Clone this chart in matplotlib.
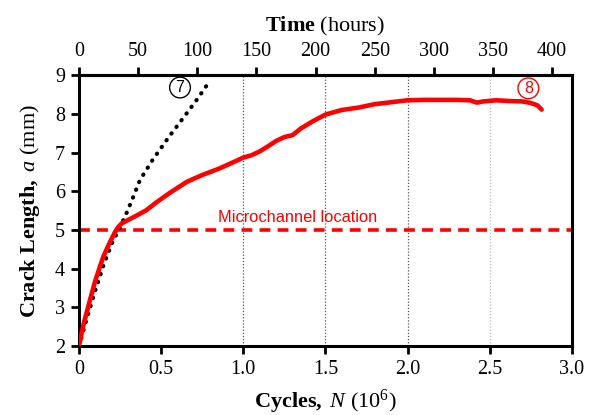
import numpy as np
import matplotlib
matplotlib.use("Agg")
import matplotlib.pyplot as plt

plt.rcParams['font.family'] = ['Liberation Serif', 'DejaVu Serif']
plt.rcParams['mathtext.fontset'] = 'custom'
plt.rcParams['mathtext.rm'] = 'Liberation Serif'
plt.rcParams['mathtext.it'] = 'Liberation Serif:italic'
plt.rcParams['mathtext.bf'] = 'Liberation Serif:bold'

# specimen 8 (red, solid)
red_N = [0, 0.03, 0.067, 0.1, 0.148, 0.189, 0.22, 0.24, 0.26, 0.3, 0.35, 0.41,
         0.47, 0.55, 0.655, 0.75, 0.85, 0.95, 1.0, 1.05, 1.1, 1.15, 1.2, 1.25,
         1.3, 1.35, 1.42, 1.5, 1.6, 1.7, 1.8, 1.9, 2.0, 2.1, 2.2, 2.3, 2.38,
         2.42, 2.46, 2.54, 2.62, 2.7, 2.75, 2.79, 2.816]
red_a = [2.0, 2.6, 3.19, 3.7, 4.31, 4.69, 4.95, 5.08, 5.17, 5.26, 5.37, 5.51,
         5.71, 5.95, 6.24, 6.42, 6.58, 6.77, 6.87, 6.93, 7.03, 7.16, 7.3, 7.4,
         7.45, 7.62, 7.8, 7.98, 8.1, 8.16, 8.25, 8.3, 8.35, 8.36, 8.36, 8.36,
         8.35, 8.29, 8.32, 8.35, 8.33, 8.32, 8.28, 8.22, 8.11]

# specimen 7 (black, dotted)
blk_N = [0, 0.05, 0.1, 0.15, 0.2, 0.25, 0.28, 0.33, 0.371, 0.45, 0.55, 0.65, 0.72, 0.793]
blk_a = [2.0, 2.75, 3.45, 4.1, 4.65, 5.08, 5.34, 5.85, 6.29, 6.82, 7.42, 7.98, 8.38, 8.83]

microchannel_a = 5.0
grid_N = [1.0, 1.5, 2.0, 2.5]
grid_colors = ['#555555', '#555555', '#555555', '#bbbbbb']
hours_per_Mcycle = 1e6 / (2.0 * 3600)  # 2 Hz

fig = plt.figure(figsize=(5.92, 4.15), dpi=100)
ax = fig.add_axes([0.1334, 0.166, 0.8326, 0.653])

for g, c in zip(grid_N, grid_colors):
    ax.axvline(g, color=c, lw=0.9, ls=(0, (1, 1.5)), zorder=1)

ax.axhline(microchannel_a, color='#ff0000', lw=2.6, ls=(0, (3, 2)), zorder=2)
ax.text(1.33, 5.12, 'Microchannel location', color='#ff0000', fontsize=11.8,
        family='Liberation Sans', ha='center', va='bottom')

ax.plot(blk_N, blk_a, color='black', lw=3, ls=(0, (0.1, 1.9)),
        dash_capstyle='round', zorder=3)
ax.plot(red_N, red_a, color='#ff0000', lw=3.3, solid_capstyle='round',
        solid_joinstyle='round', zorder=4)

ax.text(0.615, 8.68, '7', fontsize=11.5, ha='center', va='center', family='Liberation Sans',
        bbox=dict(boxstyle='circle,pad=0.18', fc='white', ec='black', lw=1))
ax.text(2.735, 8.66, '8', fontsize=11.5, ha='center', va='center', color='#ff0000',
        family='Liberation Sans',
        bbox=dict(boxstyle='circle,pad=0.18', fc='white', ec='#ff0000', lw=1))

ax.set_xlim(0, 3.0)
ax.set_ylim(2, 9)
ax.set_xticks([0, 0.5, 1.0, 1.5, 2.0, 2.5, 3.0])
ax.set_xticklabels(['0', '0.5', '1.0', '1.5', '2.0', '2.5', '3.0'])
ax.set_yticks(range(2, 10))

for s in ax.spines.values():
    s.set_linewidth(2.2)
ax.tick_params(axis='both', direction='out', length=6, width=2, labelsize=14.5, pad=4)
ax.tick_params(axis='x', top=False)
ax.tick_params(axis='y', right=False)

ax.set_xlabel(r'$\mathbf{Cycles,}\ \mathit{N}\ \mathrm{(10^{6})}$', fontsize=16, labelpad=6)
ax.set_ylabel(r'$\mathbf{Crack\ Length,}\ \mathit{a}\ \mathrm{(mm)}$', fontsize=16, labelpad=9)

top = ax.secondary_xaxis('top', functions=(lambda n: n * hours_per_Mcycle,
                                           lambda h: h / hours_per_Mcycle))
top.set_xticks(np.arange(0, 401, 50))
top.tick_params(direction='out', length=6, width=2, labelsize=14.5, pad=4)
top.spines['top'].set_linewidth(2.2)
top.set_xlabel(r'$\mathbf{Time}\ \mathrm{(hours)}$', fontsize=16, labelpad=8)

fig.savefig('out.png', dpi=100)
